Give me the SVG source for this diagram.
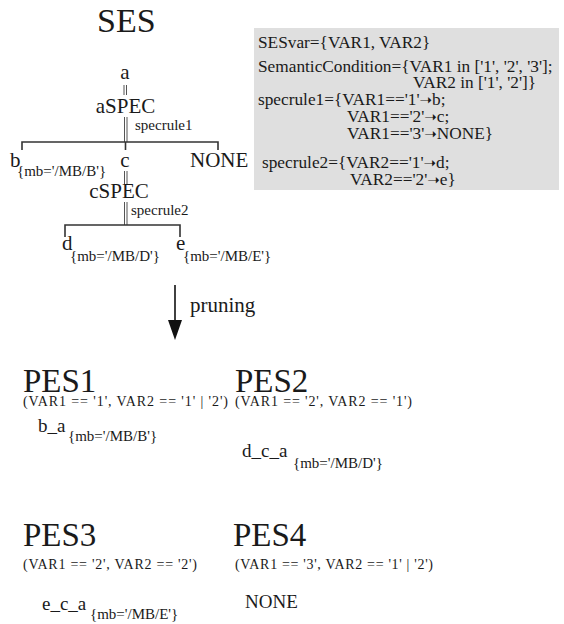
<svg xmlns="http://www.w3.org/2000/svg" width="564" height="624" viewBox="0 0 564 624">
<style>
text{font-family:"Liberation Serif","Times New Roman",serif;fill:#1a1a1a}
.t{font-size:34px}
.n{font-size:21px}
.s{font-size:15px}
.r{font-size:15px}
.b{font-size:17.3px}
.c{font-size:14px}
.p{font-size:33px}
.e{font-size:19px}
.ar{font-family:"DejaVu Sans",sans-serif;font-size:15px}
.ln{stroke:#333;stroke-width:1.6;fill:none}
.dl{stroke:#555;stroke-width:1;fill:none}
</style>
<rect width="564" height="624" fill="#fff"/>

<text class="t" x="97" y="32">SES</text>

<g id="connectors">
<path class="dl" d="M124,85V95M126.5,85V95"/>
<path class="dl" d="M124.5,117V142M127,117V142"/>
<path class="ln" d="M22,150V142H218V150M125.5,142V150"/>
<path class="dl" d="M124.5,171V184M127,171V184"/>
<path class="dl" d="M124.5,202V225M127,202V225"/>
<path class="ln" d="M65,237V225H180V237"/>
<path d="M175,285V322" stroke="#111" stroke-width="1.6"/>
<polygon points="168,320 182,320 175,340" fill="#111"/>
</g>

<g id="node-a"><text class="n" x="125" y="79" text-anchor="middle">a</text></g>
<g id="node-aSPEC"><text class="n" x="125.5" y="113" text-anchor="middle">aSPEC</text>
<text class="r" x="135" y="130">specrule1</text></g>
<g id="node-b"><text class="n" x="10" y="167">b</text><text class="s" x="17" y="176">{mb='/MB/B'}</text></g>
<g id="node-c"><text class="n" x="125" y="167" text-anchor="middle">c</text></g>
<g id="node-NONE"><text class="n" x="190" y="167">NONE</text></g>
<g id="node-cSPEC"><text class="n" x="119" y="198" text-anchor="middle">cSPEC</text>
<text class="r" x="131" y="215">specrule2</text></g>
<g id="node-d"><text class="n" x="62" y="250">d</text><text class="s" x="70" y="261">{mb='/MB/D'}</text></g>
<g id="node-e"><text class="n" x="176" y="250">e</text><text class="s" x="183" y="261">{mb='/MB/E'}</text></g>

<g id="rules">
<rect x="254" y="28" width="305" height="162" fill="#dfdfdf"/>
<text class="b" x="258" y="48">SESvar={VAR1, VAR2}</text>
<text class="b" x="258" y="72">SemanticCondition={VAR1 in ['1', '2', '3'];</text>
<text class="b" x="413" y="88">VAR2 in ['1', '2']}</text>
<text class="b" x="258" y="105">specrule1={VAR1=='1'<tspan class="ar">➝</tspan>b;</text>
<text class="b" x="347" y="122">VAR1=='2'<tspan class="ar">➝</tspan>c;</text>
<text class="b" x="347" y="139">VAR1=='3'<tspan class="ar">➝</tspan>NONE}</text>
<text class="b" x="262" y="168">specrule2={VAR2=='1'<tspan class="ar">➝</tspan>d;</text>
<text class="b" x="350" y="185">VAR2=='2'<tspan class="ar">➝</tspan>e}</text>
</g>

<g id="pruning"><text x="190" y="312" style="font-size:21px">pruning</text></g>

<g id="PES1">
<text class="p" x="23" y="392">PES1</text>
<text class="c" x="23" y="406" textLength="205" lengthAdjust="spacing">(VAR1 == '1', VAR2 == '1' | '2')</text>
<text class="e" x="38" y="432">b_a</text>
<text class="s" x="68" y="441">{mb='/MB/B'}</text>
</g>
<g id="PES2">
<text class="p" x="235" y="392">PES2</text>
<text class="c" x="235" y="406" textLength="177" lengthAdjust="spacing">(VAR1 == '2', VAR2 == '1')</text>
<text class="e" x="242" y="457">d_c_a</text>
<text class="s" x="293" y="468">{mb='/MB/D'}</text>
</g>
<g id="PES3">
<text class="p" x="23" y="546">PES3</text>
<text class="c" x="23" y="569" textLength="174" lengthAdjust="spacing">(VAR1 == '2', VAR2 == '2')</text>
<text class="e" x="42" y="610">e_c_a</text>
<text class="s" x="90" y="619">{mb='/MB/E'}</text>
</g>
<g id="PES4">
<text class="p" x="233" y="546">PES4</text>
<text class="c" x="235" y="569" textLength="198" lengthAdjust="spacing">(VAR1 == '3', VAR2 == '1' | '2')</text>
<text class="e" x="245" y="608">NONE</text>
</g>
</svg>
